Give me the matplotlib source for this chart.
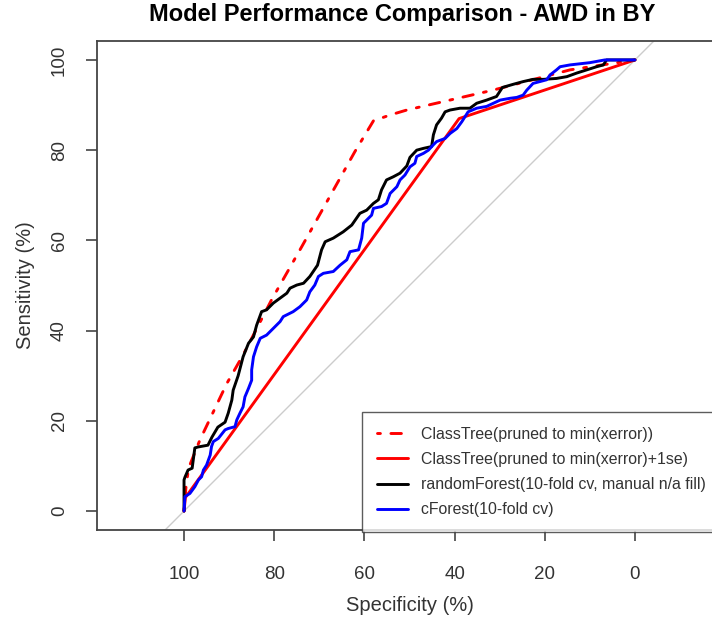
import matplotlib
matplotlib.use('Agg')
import matplotlib.pyplot as plt

plt.rcParams['font.family'] = ['Liberation Sans', 'DejaVu Sans']

# ROC curves: specificity (%) and sensitivity (%)
tree_min_spec = [100, 99.6, 99.0, 96.5, 93.5, 90.5, 86.9, 80.6, 73.9, 67.3, 62.1, 58.0,
                 54.3, 50.6, 31.5, 14.4, 0]
tree_min_sens = [0, 5.0, 9.5, 15.7, 22.0, 28.3, 34.6, 46.8, 58.6, 70.4, 79.7, 86.5,
                 87.8, 88.9, 93.3, 97.8, 100]

tree_1se_spec = [100, 99.7, 39.0, 0]
tree_1se_sens = [0, 3.0, 87.0, 100]

rf_spec = [100, 100, 99.8, 99.1, 98.2, 97.6, 96.9, 94.7, 93.8, 92.5, 90.9, 90.2, 89.4, 89.1,
           88.0, 86.9, 85.7, 84.6, 83.9, 82.8, 81.7, 80.2, 78.7, 77.2, 76.5, 75.0, 73.5, 72.1,
           70.4, 69.5, 68.7, 66.9, 64.7, 62.8, 61.0, 59.5, 58.0, 56.9, 56.2, 55.1, 53.6, 52.1,
           50.6, 49.9, 48.4, 46.9, 45.1, 44.7, 44.0, 42.9, 42.1, 41.0, 38.8, 36.6, 35.1, 32.9,
           30.7, 29.4, 27.0, 24.8, 22.6, 20.3, 17.4, 15.1, 12.9, 10.7, 8.5, 7.0, 6.3, 0]
rf_sens = [0, 6.9, 7.5, 9.1, 9.5, 14.0, 14.2, 14.6, 16.4, 18.6, 19.7, 21.7, 24.6, 26.8,
           30.0, 34.2, 37.2, 38.6, 41.2, 44.2, 44.6, 46.1, 47.2, 48.3, 49.4, 50.1, 50.5, 52.0,
           54.5, 57.9, 59.7, 60.5, 61.9, 63.4, 66.0, 66.7, 68.2, 69.0, 71.2, 73.4, 74.1, 74.9,
           76.5, 78.4, 80.0, 80.4, 80.8, 83.4, 85.6, 87.1, 88.5, 88.9, 89.3, 89.3, 90.4, 91.1,
           91.9, 93.9, 94.6, 95.2, 95.7, 95.7, 95.9, 96.3, 97.1, 97.8, 98.5, 98.9, 100, 100]

cf_spec = [100, 99.8, 98.7, 97.6, 96.8, 96.1, 95.7, 95.0, 94.6, 94.2, 93.9, 93.5, 92.4, 90.9,
           90.2, 88.7, 88.3, 87.6, 86.9, 86.5, 85.7, 85.0, 85.0, 84.6, 83.9, 83.1, 81.7, 80.2,
           78.7, 78.0, 75.8, 74.3, 72.8, 72.1, 71.0, 70.2, 69.1, 66.9, 65.4, 63.9, 63.2, 61.3,
           60.6, 60.2, 59.5, 58.4, 58.0, 56.2, 55.1, 54.3, 52.8, 52.1, 51.0, 49.9, 48.8, 48.4,
           46.9, 45.8, 44.7, 44.0, 42.1, 41.0, 39.5, 38.4, 37.7, 37.0, 35.1, 32.9, 31.4, 29.9,
           27.7, 26.2, 24.8, 24.0, 22.6, 21.1, 19.6, 18.8, 17.4, 16.6, 14.4, 10.0, 6.7, 0]
cf_sens = [0, 3.2, 3.9, 5.4, 6.9, 7.6, 9.1, 10.2, 11.3, 12.4, 14.3, 15.4, 16.1, 18.0,
           18.3, 18.7, 20.2, 21.7, 23.1, 25.3, 27.2, 29.0, 31.3, 34.2, 36.4, 38.3, 39.0, 40.5,
           42.0, 43.1, 44.2, 45.3, 46.8, 48.6, 50.1, 52.0, 52.7, 53.1, 54.5, 55.7, 57.5, 57.9,
           60.5, 63.8, 64.5, 65.6, 67.1, 67.5, 68.2, 70.4, 71.9, 73.4, 74.5, 76.3, 77.1, 78.6,
           79.3, 80.0, 81.2, 81.9, 82.6, 83.7, 84.8, 86.3, 87.4, 88.5, 89.3, 89.7, 90.4, 91.1,
           91.5, 91.7, 92.2, 93.3, 94.8, 95.2, 95.6, 96.7, 97.8, 98.5, 98.9, 99.4, 100, 100]

labels = ['ClassTree(pruned to min(xerror))',
          'ClassTree(pruned to min(xerror)+1se)',
          'randomForest(10-fold cv, manual n/a fill)',
          'cForest(10-fold cv)']
ticks = [100, 80, 60, 40, 20, 0]

W, H = 712, 619
fig = plt.figure(figsize=(W / 100, H / 100), dpi=100)
# plot region runs past the right edge of the picture, as in the reference
ax = fig.add_axes([97 / W, 1 - 530 / H, 625 / W, 489 / H])
ax.set_xlim(119.3, -19.3)
ax.set_ylim(-4.2, 104.2)

line_kw = dict(lw=2.1, solid_capstyle='round', dash_capstyle='round', solid_joinstyle='round')
ax.axline((100, 0), (0, 100), color='#cccccc', lw=1.0, zorder=1)
ax.plot(tree_min_spec, tree_min_sens, color='red', dashes=(1, 3.6, 3.6, 3.6),
        label=labels[0], **line_kw)
ax.plot(tree_1se_spec, tree_1se_sens, color='red', label=labels[1], **line_kw)
ax.plot(rf_spec, rf_sens, color='black', label=labels[2], **line_kw)
ax.plot(cf_spec, cf_sens, color='blue', label=labels[3], **line_kw)

ax.set_xticks(ticks)
ax.set_yticks(ticks)
ax.tick_params(length=8, width=1.2, color='#444444', labelsize=13.5, labelcolor='#333333')
ax.tick_params(axis='x', pad=18)
ax.tick_params(axis='y', pad=13)
plt.setp(ax.get_yticklabels(), rotation=90, va='center')
for s in ax.spines.values():
    s.set_color('#444444')
    s.set_linewidth(1.3)

ax.set_xlabel('Specificity (%)', fontsize=14.5, color='#333333')
ax.set_ylabel('Sensitivity (%)', fontsize=14.5, color='#333333')
ax.xaxis.set_label_coords(0.5, -(596 - 530) / 489)
ax.yaxis.set_label_coords(-(97 - 35) / 625, 0.5)
fig.text(402 / W, 1 - 21 / H, 'Model Performance Comparison - AWD in BY',
         ha='center', va='baseline', fontsize=17, fontweight='bold')

leg = ax.legend(loc='upper left', bbox_to_anchor=(60.5, 22.0), bbox_transform=ax.transData,
                fontsize=11.4, frameon=True, fancybox=False, borderaxespad=0,
                handlelength=1.95, handletextpad=0.8, labelspacing=0.64, borderpad=0.95)
leg.get_frame().set_edgecolor('#333333')
leg.get_frame().set_linewidth(1.0)
for t in leg.get_texts():
    t.set_color('#333333')

fig.savefig('out.png', dpi=100)
